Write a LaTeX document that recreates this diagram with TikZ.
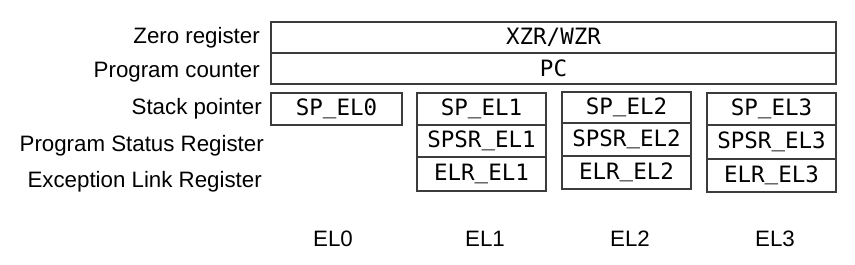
\documentclass[tikz,border=0pt]{standalone}
\usepackage{fontspec}
\setmainfont{Liberation Sans}
\newfontfamily\regfont{DejaVu Sans Mono}
\usepackage{tikz}
\usetikzlibrary{positioning}
\definecolor{boxline}{RGB}{60, 60, 60}

% underscore sitting on the baseline, as in the register names
\newcommand{\usc}{\raisebox{2.5pt}{\_}}

\tikzset{
  regbox/.style={draw=boxline, line width=1.6pt, font=\regfont\fontsize{22.5}{22.5}\selectfont},
  rowlabel/.style={anchor=east, inner sep=0pt, font=\fontsize{22.3}{22.3}\selectfont},
  ellabel/.style={inner sep=0pt, font=\fontsize{22.3}{22.3}\selectfont}
}

\begin{document}
\begin{tikzpicture}[x=1pt, y=-1pt]

  \pgfmathsetmacro{\xl}{271};
  \pgfmathsetmacro{\xr}{836};

  \useasboundingbox (0, 0) rectangle (855, 265);

  % registers shared by all levels
  \draw[regbox] (\xl, 22) rectangle (\xr, 53) node[midway] (zr) {XZR/WZR};
  \draw[regbox] (\xl, 53) rectangle (\xr, 84) node[midway] (pc) {PC};
  \draw[regbox] (\xl, 93) rectangle (402, 125) node[midway] (sp0) {SP\usc EL0};

  % banked registers, one column per exception level
  \foreach \n/\xa/\ya/\yb/\yc/\yd in {1/417/93/125/157/191, 2/562/92/123/156/189, 3/707/93/125/159/192} {
    \pgfmathsetmacro{\xb}{\xa + 129};
    \draw[regbox] (\xa, \ya) rectangle (\xb, \yb) node[midway] (sp\n) {SP\usc EL\n};
    \draw[regbox] (\xa, \yb) rectangle (\xb, \yc) node[midway] (spsr\n) {SPSR\usc EL\n};
    \draw[regbox] (\xa, \yc) rectangle (\xb, \yd) node[midway] (elr\n) {ELR\usc EL\n};
  }

  \node[rowlabel] (zrlab) at (260, 38) {Zero register};
  \node[rowlabel] (pclab) at (260, 72) {Program counter};
  \node[rowlabel] (splab) at (262, 109) {Stack pointer};
  \node[rowlabel] (spsrlab) at (264, 146) {Program Status Register};
  \node[rowlabel] (elrlab) at (262, 182) {Exception Link Register};

  \node[ellabel] (el0) at (333, 239) {EL0};
  \node[ellabel] (el1) at (485, 239) {EL1};
  \node[ellabel] (el2) at (630, 239) {EL2};
  \node[ellabel] (el3) at (775, 239) {EL3};

\end{tikzpicture}
\end{document}
